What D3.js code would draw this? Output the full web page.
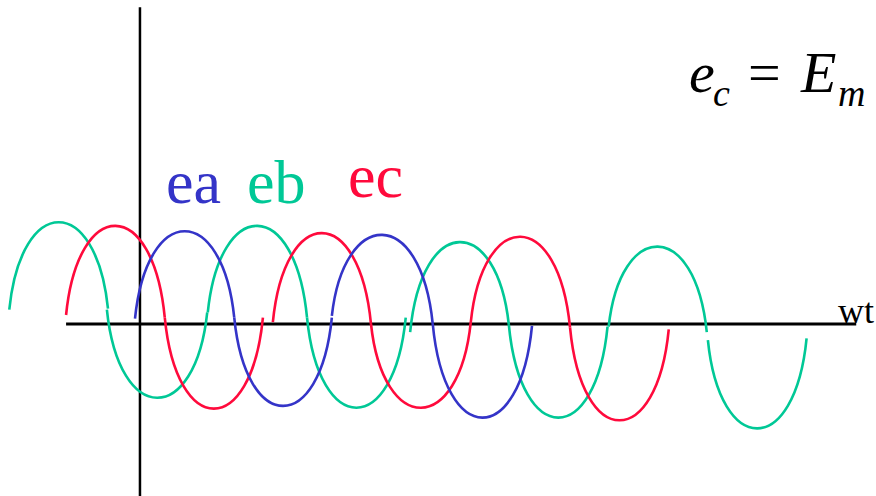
<!DOCTYPE html>
<html>
<head>
<meta charset="utf-8">
<script src="https://cdn.jsdelivr.net/npm/d3@7"></script>
<style>
  body { margin: 0; background: #fff; }
  svg { display: block; }
</style>
</head>
<body>
<svg id="chart" width="876" height="496"></svg>
<script>
// each half wave: [start deg, start value, end deg, end value, peak value]
const eaHumps = [
    [0, 0.06, 180, 0.07, 1.03],
    [180, 0.07, 357, 0.07, -0.91],
    [357, 0.09, 540, 0, 0.99],
    [540, 0, 720, -0.02, -1.04]
];
const ebHumps = [
    [-228, 0.16, -49, 0.17, 1.13],
    [-51, 0.16, 131, 0.13, -0.82],
    [132, 0.13, 312, 0.07, 1.09],
    [312, 0.07, 491, 0.07, -0.93],
    [499, -0.09, 678, -0.01, 0.91],
    [678, -0.01, 857, -0.03, -1.04],
    [859, -0.03, 1037, -0.09, 0.86],
    [1039, -0.18, 1218, -0.16, -1.16]
];
const ecHumps = [
    [-125, 0.10, 54, 0.07, 1.09],
    [54, 0.07, 232, 0.07, -0.94],
    [250, 0.02, 428, 0, 1.01],
    [428, 0, 609, 0.02, -0.93],
    [609, 0.02, 789, -0.04, 0.97],
    [789, -0.04, 968, -0.06, -1.07]
];

const seriesNames = ["ea", "eb", "ec"];
const seriesColors = ["#3434c8", "#00c896", "#ff0a3c"];

// axis extents
const wtRange = [-125, 1308];
const eRange = [-1.92, 3.52];
const eAxisAt = 9;

const serif = 'Liberation Serif';

const svg = d3.select('#chart');

const xScale = d3.scaleLinear()
    .domain([0, 720])
    .range([135, 532]);

const yScale = d3.scaleLinear()
    .domain([-1, 1])
    .range([414, 234]);

// axes
svg.append('line')
    .attr('x1', xScale(wtRange[0]))
    .attr('x2', xScale(wtRange[1]))
    .attr('y1', yScale(0))
    .attr('y2', yScale(0))
    .style('stroke', 'black')
    .style('stroke-width', 3);

svg.append('line')
    .attr('x1', xScale(eAxisAt))
    .attr('x2', xScale(eAxisAt))
    .attr('y1', yScale(eRange[1]))
    .attr('y2', yScale(eRange[0]))
    .style('stroke', 'black')
    .style('stroke-width', 2.5);

// half wave drawn as a cubic with near vertical ends
function humpPath(h) {
    const x0 = xScale(h[0]), y0 = yScale(h[1]);
    const x1 = xScale(h[2]), y1 = yScale(h[3]);
    const yp = yScale(h[4]);
    const w = x1 - x0;
    const k = 4 / 3;
    const p = d3.path();
    p.moveTo(x0, y0);
    p.bezierCurveTo(x0 + 0.12 * w, y0 + k * (yp - y0),
                    x1 - 0.12 * w, y1 + k * (yp - y1),
                    x1, y1);
    return p.toString();
}

const allHumps = [ebHumps, ecHumps, eaHumps];
const order = [1, 2, 0];

allHumps.forEach((humps, i) => {
    svg.append('g')
        .selectAll('path')
        .data(humps)
        .join('path')
            .attr('d', humpPath)
            .style('fill', 'none')
            .style('stroke', seriesColors[order[i]])
            .style('stroke-width', 2.6);
});

// series labels
const labelPos = [[166, 203], [247, 203], [348, 197]];
svg.selectAll('.seriesLabel')
    .data(seriesNames)
    .join('text')
        .classed('seriesLabel', true)
        .attr('x', (d, i) => labelPos[i][0])
        .attr('y', (d, i) => labelPos[i][1])
        .attr('font-family', serif)
        .attr('font-size', 62)
        .attr('fill', (d, i) => seriesColors[i])
        .text(d => d);

svg.append('text')
    .attr('x', 838)
    .attr('y', 323)
    .attr('font-family', serif)
    .attr('font-size', 36)
    .attr('fill', 'black')
    .text('wt');

// equation e_c = E_m
const eq = svg.append('text')
    .attr('font-family', serif)
    .attr('fill', 'black');

eq.append('tspan').attr('x', 689).attr('y', 92)
    .attr('font-style', 'italic').attr('font-size', 58).text('e');
eq.append('tspan').attr('x', 713).attr('y', 106)
    .attr('font-style', 'italic').attr('font-size', 38).text('c');
eq.append('tspan').attr('x', 748).attr('y', 92)
    .attr('font-size', 58).text('=');
eq.append('tspan').attr('x', 801).attr('y', 92)
    .attr('font-style', 'italic').attr('font-size', 58).text('E');
eq.append('tspan').attr('x', 838).attr('y', 106)
    .attr('font-style', 'italic').attr('font-size', 38).text('m');
</script>
</body>
</html>
